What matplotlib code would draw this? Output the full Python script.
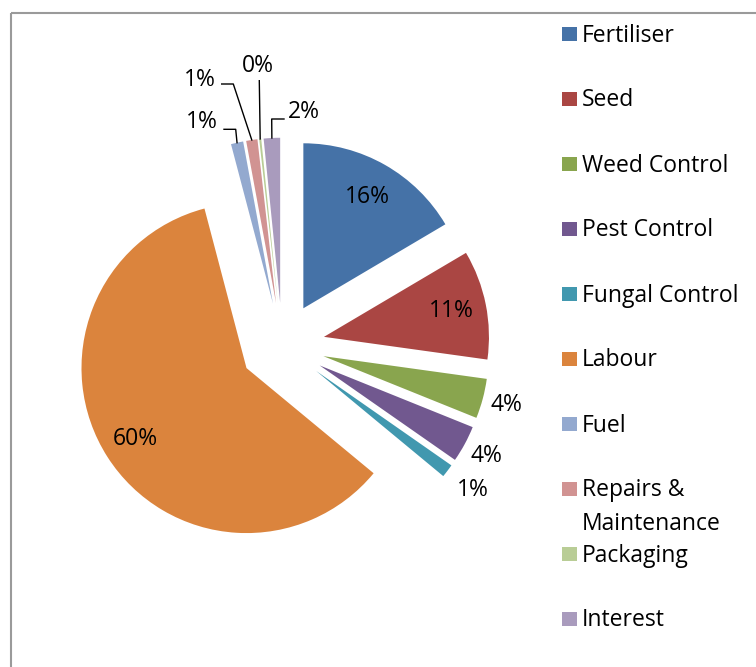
#!/usr/bin/env python3
import numpy as np
import matplotlib
matplotlib.use('Agg')
import matplotlib.pyplot as plt
from matplotlib.patches import Rectangle

# cost shares (percent)
categories = ['Fertiliser', 'Seed', 'Weed Control', 'Pest Control',
              'Fungal Control', 'Labour', 'Fuel', 'Repairs &\nMaintenance',
              'Packaging', 'Interest']
shares = [16.5, 10.7, 3.9, 3.6, 1.3, 59.9, 1.2, 1.1, 0.2, 1.6]
colors = ['#4572A7', '#AA4643', '#89A54E', '#71588F', '#4198AF',
          '#DB843D', '#93A9CF', '#D19392', '#B9CD96', '#A99BBD']

W, H = 756, 667
CX, CY, R = 282.3, 345.2, 165.0   # pie centre / radius in pixels
EXPLODE = 0.2575
FONT = 'Open Sans'
FS = 16.5

# label placement: inside (fraction of radius) or outside
label_dist = [0.78, 0.79, 1.15, 1.15, 1.19, 0.80, None, None, None, None]
# leader labels for the thin top slices: text centre, line start, elbow (px)
leaders = {
    6: ((202, 121.5), (224, 129.3), (235.7, 129.3)),
    7: ((200, 79.5), (221.7, 84), (233.3, 84)),
    8: ((257.5, 66), (259.3, 80.7), None),
    9: ((304, 111.5), (284, 119), (271.7, 119)),
}


def px2data(x, y):
    return (x - CX) / R, (CY - y) / R


def main():
    fig = plt.figure(figsize=(W / 100, H / 100), dpi=100)

    # overlay in pixel units for border + legend
    over = fig.add_axes([0, 0, 1, 1])
    over.set_xlim(0, W)
    over.set_ylim(H, 0)
    over.axis('off')
    over.add_patch(Rectangle((11, 13), W + 20, H + 20, fill=False,
                             edgecolor='#9a9a9a', linewidth=1.5,
                             clip_on=False))

    y0, step = 33.7, 65.0
    for i, (name, col) in enumerate(zip(categories, colors)):
        yc = y0 + i * step
        over.add_patch(Rectangle((562, yc - 7), 14.5, 14.5, color=col,
                                 linewidth=0))
        for j, line in enumerate(name.split('\n')):
            over.text(582, yc + 7.8 + j * 33.3, line, fontsize=FS,
                      family=FONT, va='baseline', ha='left', color='black')

    ax = fig.add_axes([0, 0, 1, 1])
    ax.patch.set_alpha(0)
    wedges, _ = ax.pie(shares, colors=colors, explode=[EXPLODE] * len(shares),
                       startangle=90, counterclock=False, radius=1,
                       wedgeprops=dict(linewidth=0))
    ax.set_xlim(-CX / R, (W - CX) / R)
    ax.set_ylim((CY - H) / R, CY / R)
    ax.set_aspect('auto')
    ax.axis('off')

    for i, w in enumerate(wedges):
        txt = '%.0f%%' % shares[i]
        mid = np.deg2rad((w.theta1 + w.theta2) / 2)
        cx, cy = w.center
        d = np.array([np.cos(mid), np.sin(mid)])
        if label_dist[i] is not None:
            x, y = cx + label_dist[i] * d[0], cy + label_dist[i] * d[1]
            ax.text(x, y, txt, ha='center', va='center', fontsize=FS,
                    family=FONT)
        else:
            tpos, start, elbow = leaders[i]
            edge = (cx + d[0], cy + d[1])
            pts = [px2data(*start)]
            if elbow is not None:
                pts.append(px2data(*elbow))
            pts.append(edge)
            xs, ys = zip(*pts)
            ax.plot(xs, ys, color='black', linewidth=1.0)
            tx, ty = px2data(*tpos)
            ax.text(tx, ty, txt, ha='center', va='center', fontsize=FS,
                    family=FONT)

    fig.savefig('out.png', dpi=100)


if __name__ == "__main__":
    main()
